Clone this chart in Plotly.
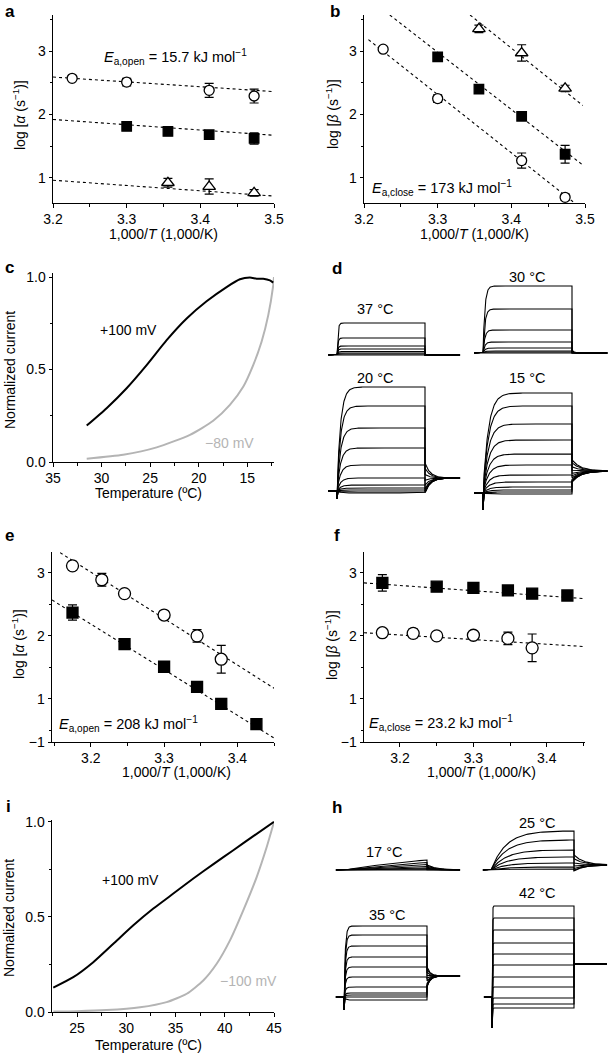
import numpy as np
import plotly.graph_objects as go

W, H = 609, 1054
FONT = "Arial, 'Liberation Sans', Helvetica, sans-serif"
GREY = "#b4b4b4"
TICK_SIZE = 14
TITLE_SIZE = 14

# ---------------- data ----------------
# panel a : log alpha
a_open_x = [3.226, 3.300, 3.412, 3.473]
a_open_y = [2.57, 2.51, 2.38, 2.29]
a_open_err = [0.03, 0.06, 0.11, 0.11]
a_fill_x = [3.300, 3.356, 3.412, 3.473]
a_fill_y = [1.81, 1.73, 1.68, 1.62]
a_fill_err = [0.05, 0.04, 0.05, 0.09]
a_tri_x = [3.356, 3.412, 3.473]
a_tri_y = [0.92, 0.86, 0.76]
a_tri_err = [0.07, 0.12, 0.05]
a_fit_x = [3.2, 3.5]
a_fit_open = [2.59, 2.36]
a_fit_fill = [1.92, 1.67]
a_fit_tri = [0.96, 0.71]

# panel b : log beta
b_open_x = [3.226, 3.300, 3.414, 3.473]
b_open_y = [3.03, 2.25, 1.27, 0.69]
b_open_err = [0.03, 0.06, 0.12, 0.05]
b_fill_x = [3.300, 3.356, 3.414, 3.473]
b_fill_y = [2.91, 2.40, 1.97, 1.37]
b_fill_err = [0.05, 0.07, 0.05, 0.14]
b_tri_x = [3.356, 3.414, 3.473]
b_tri_y = [3.35, 2.97, 2.41]
b_tri_err = [0.06, 0.13, 0.05]
b_fit_open_x, b_fit_open_y = [3.206, 3.486], [3.18, 0.60]
b_fit_fill_x, b_fit_fill_y = [3.235, 3.497], [3.57, 1.20]
b_fit_tri_x, b_fit_tri_y = [3.344, 3.497], [3.57, 2.14]

# panel c : normalized current vs temperature
c_pos_T = [31.53, 29.48, 27.42, 25.36, 23.30, 21.24, 19.19, 17.13, 15.76, 14.73, 14.04,
           13.36, 12.67, 12.33]
c_pos_I = [0.197, 0.291, 0.399, 0.524, 0.659, 0.776, 0.869, 0.946, 0.988, 0.997, 0.991,
           0.991, 0.982, 0.970]
c_neg_T = [31.53, 27.77, 24.33, 20.9, 18.51, 16.79, 15.42, 14.39, 13.53, 12.84, 12.33, 12.25]
c_neg_I = [0.018, 0.039, 0.079, 0.147, 0.223, 0.309, 0.407, 0.524, 0.65, 0.794, 0.955, 1.0]

# panel e : log alpha
e_open_x = [3.175, 3.215, 3.246, 3.300, 3.345, 3.378]
e_open_y = [3.11, 2.89, 2.67, 2.33, 2.00, 1.63]
e_open_err = [0.07, 0.10, 0.05, 0.05, 0.10, 0.22]
e_fill_x = [3.175, 3.246, 3.300, 3.345, 3.378, 3.426]
e_fill_y = [2.37, 1.87, 1.51, 1.19, 0.92, 0.60]
e_fill_err = [0.12, 0, 0, 0, 0, 0]
e_fit_open_x, e_fit_open_y = [3.158, 3.45], [3.32, 1.17]
e_fit_fill_x, e_fit_fill_y = [3.147, 3.45], [2.57, 0.38]

# panel f : log beta
f_fill_x = [3.176, 3.250, 3.300, 3.347, 3.380, 3.428]
f_fill_y = [2.84, 2.78, 2.76, 2.72, 2.67, 2.64]
f_fill_err = [0.13, 0, 0, 0, 0, 0]
f_open_x = [3.176, 3.218, 3.250, 3.300, 3.347, 3.380]
f_open_y = [2.05, 2.04, 2.00, 2.01, 1.96, 1.81]
f_open_err = [0.06, 0.07, 0.05, 0.05, 0.10, 0.22]
f_fit_x = [3.151, 3.452]
f_fit_fill = [2.84, 2.59]
f_fit_open = [2.05, 1.83]

# panel i : normalized current vs temperature
i_pos_T = [22.59, 24.62, 26.65, 28.69, 30.72, 32.75, 34.78, 36.81, 38.85, 40.87, 42.9, 45.0]
i_pos_I = [0.128, 0.183, 0.262, 0.359, 0.456, 0.544, 0.623, 0.702, 0.778, 0.851, 0.925, 1.0]
i_neg_T = [22.6, 25.0, 28.0, 31.4, 34.1, 36.14, 37.82, 39.18, 40.53, 41.88, 43.24, 44.26, 45.0]
i_neg_I = [0.002, 0.004, 0.01, 0.025, 0.052, 0.096, 0.166, 0.254, 0.377, 0.535, 0.71,
           0.868, 1.0]

# current families (end-of-pulse amplitudes, arbitrary units), kinetics
d_labels = ["37 °C", "30 °C", "20 °C", "15 °C"]
d_amps = [
    [3.2, 1.7, 0.9, 0.6, 0.35, 0.2, 0.1, 0.0],
    [6.7, 4.4, 2.3, 1.1, 0.5, 0.2, 0.1, 0.0],
    [10.4, 8.5, 6.3, 4.3, 2.6, 1.3, 0.6, 0.3, 0.1, -0.1, -0.2],
    [10.0, 8.7, 6.9, 5.3, 3.9, 2.8, 1.8, 1.1, 0.6, 0.3, 0.1, -0.1],
]
d_tau_on = [1.0, 2.0, 4.0, 6.0]
d_tail = [0.0, 0.0, 1.3, 2.2]
d_tail_hi = [0.0, 0.3, 2.8, 3.3]
d_tail_lo = [0.0, 0.0, -0.2, 1.1]
d_tau_off = [1.0, 2.0, 6.0, 10.0]
d_spike = [0.0, 0.0, 0.8, 1.7]

h_labels = ["17 °C", "25 °C", "35 °C", "42 °C"]
h_amps = [
    [1.0, 0.75, 0.55, 0.35, 0.2, 0.1, 0.05],
    [3.9, 3.0, 2.0, 1.3, 0.7, 0.3, 0.1],
    [7.1, 6.2, 5.1, 4.0, 3.0, 2.0, 1.0, 0.4, 0.2, 0.0, -0.3],
    [9.1, 7.9, 6.7, 5.4, 4.3, 3.2, 2.0, 1.0, -0.1, -0.7, -1.1],
]
h_tau_on = [150.0, 18.0, 1.5, 0.3]
h_tail = [0.0, 0.5, 2.1, 3.3]
h_tail_hi = [0.5, 1.5, 3.0, 3.3]
h_tail_lo = [0.0, -0.1, 1.0, 3.3]
h_tau_off = [12.0, 12.0, 4.0, 1.0]
h_spike = [0.0, 0.0, 1.3, 3.1]

# ---------------- helpers ----------------
def px(x):
    return x / W

def py(y):
    return 1 - y / H

fig = go.Figure()
layout = {}

def axis_common():
    return dict(showline=True, linecolor="black", linewidth=1, ticks="outside",
                ticklen=3.5, tickwidth=1, tickcolor="black", showgrid=False,
                zeroline=False, automargin=False,
                tickfont=dict(family=FONT, size=TICK_SIZE, color="black"))

def add_axes(n, xl, xr, yt, yb, xrange, yrange, xt, yt_vals, xtext=None, ytext=None,
             xminor=None, yminor=None):
    xa = axis_common()
    xa.update(domain=[px(xl), px(xr)], range=xrange, anchor="y%d" % n,
              tickmode="array", tickvals=xt,
              ticktext=xtext if xtext else [str(v) for v in xt])
    if xminor:
        xa["minor"] = dict(tickvals=xminor, ticks="outside", ticklen=2.5, tickcolor="black")
    ya = axis_common()
    ya.update(domain=[py(yb), py(yt)], range=yrange, anchor="x%d" % n,
              tickmode="array", tickvals=yt_vals,
              ticktext=ytext if ytext else [str(v) for v in yt_vals])
    if yminor:
        ya["minor"] = dict(tickvals=yminor, ticks="outside", ticklen=2.5, tickcolor="black")
    layout["xaxis%d" % n] = xa
    layout["yaxis%d" % n] = ya

def hidden_axes(n, xl, xr, yt, yb, xrange, yrange):
    layout["xaxis%d" % n] = dict(domain=[px(xl), px(xr)], range=xrange, visible=False,
                                 anchor="y%d" % n, fixedrange=True, automargin=False)
    layout["yaxis%d" % n] = dict(domain=[py(yb), py(yt)], range=yrange, visible=False,
                                 anchor="x%d" % n, fixedrange=True, automargin=False)

def dashed(n, x, y):
    fig.add_trace(go.Scatter(x=x, y=y, mode="lines", xaxis="x%d" % n, yaxis="y%d" % n,
                             line=dict(color="black", width=1.1, dash="3px,3px"),
                             showlegend=False, hoverinfo="skip"))

def points(n, x, y, err, symbol, size, fill):
    fig.add_trace(go.Scatter(x=x, y=y, mode="markers", xaxis="x%d" % n, yaxis="y%d" % n,
                             marker=dict(symbol=symbol, size=size, color=fill,
                                         line=dict(color="black", width=1.3)),
                             error_y=dict(type="data", array=err, color="black",
                                          thickness=1.2, width=4.5),
                             showlegend=False))

def curve(n, x, y, color):
    fig.add_trace(go.Scatter(x=x, y=y, mode="lines", xaxis="x%d" % n, yaxis="y%d" % n,
                             line=dict(color=color, width=2, shape="spline", smoothing=0.6),
                             showlegend=False))

def family(n, amps, tau_on, tail, tail_hi, tail_lo, tau_off, spike):
    t_on = np.concatenate([[0.0], np.geomspace(0.02, 100, 180)])
    t_off = 100 + np.concatenate([[0.0], np.geomspace(0.05, 40, 90)])
    amax, amin = max(amps), min(amps)
    xs, ys = [], []
    for A in amps:
        f = 1 - np.exp(-t_on / tau_on)
        f100 = 1 - np.exp(-100 / tau_on)
        i_on = A * f / f100 - spike * np.exp(-t_on / 0.3)
        frac = (A - amin) / (amax - amin) if amax > amin else 0.0
        B = tail_lo + (tail_hi - tail_lo) * frac
        i_off = tail + (B - tail) * np.exp(-(t_off - 100) / tau_off)
        xs += [-10, 0] + list(t_on) + list(t_off) + [None]
        ys += [0, 0] + list(i_on) + list(i_off) + [None]
    fig.add_trace(go.Scatter(x=xs, y=ys, mode="lines", xaxis="x%d" % n, yaxis="y%d" % n,
                             line=dict(color="black", width=1.1), showlegend=False,
                             hoverinfo="skip"))

# ---------------- panel a ----------------
add_axes(1, 53, 274, 15, 203, [3.2, 3.5], [0.6, 3.57], [3.2, 3.3, 3.4, 3.5], [1, 2, 3],
         xminor=[3.25, 3.35, 3.45], yminor=[1.5, 2.5, 3.5])
dashed(1, a_fit_x, a_fit_open)
dashed(1, a_fit_x, a_fit_fill)
dashed(1, a_fit_x, a_fit_tri)
points(1, a_open_x, a_open_y, a_open_err, "circle", 10, "white")
points(1, a_fill_x, a_fill_y, a_fill_err, "square", 9.5, "black")
points(1, a_tri_x, a_tri_y, a_tri_err, "triangle-up", 11, "white")

# ---------------- panel b ----------------
add_axes(2, 364, 585, 15, 203, [3.2, 3.5], [0.6, 3.57], [3.2, 3.3, 3.4, 3.5], [1, 2, 3],
         xminor=[3.25, 3.35, 3.45], yminor=[1.5, 2.5, 3.5])
dashed(2, b_fit_open_x, b_fit_open_y)
dashed(2, b_fit_fill_x, b_fit_fill_y)
dashed(2, b_fit_tri_x, b_fit_tri_y)
points(2, b_open_x, b_open_y, b_open_err, "circle", 10, "white")
points(2, b_fill_x, b_fill_y, b_fill_err, "square", 9.5, "black")
points(2, b_tri_x, b_tri_y, b_tri_err, "triangle-up", 11, "white")

# ---------------- panel c ----------------
add_axes(3, 53, 274, 273, 462, [35, 12.25], [0, 1.022], [35, 30, 25, 20, 15], [0, 0.5, 1.0],
         ytext=["0.0", "0.5", "1.0"], xminor=[32.5, 27.5, 22.5, 17.5, 12.5],
         yminor=[0.25, 0.75])
curve(3, c_neg_T, c_neg_I, GREY)
curve(3, c_pos_T, c_pos_I, "black")

# ---------------- panel e ----------------
add_axes(4, 52, 274, 552, 742, [3.147, 3.45], [0.317, 3.33], [3.2, 3.3, 3.4],
         [0.317, 1, 2, 3], ytext=["\u22121", "1", "2", "3"],
         xminor=[3.15, 3.25, 3.35, 3.45], yminor=[0.5, 1.5, 2.5])
dashed(4, e_fit_open_x, e_fit_open_y)
dashed(4, e_fit_fill_x, e_fit_fill_y)
points(4, e_open_x, e_open_y, e_open_err, "circle", 12, "white")
points(4, e_fill_x, e_fill_y, e_fill_err, "square", 11, "black")

# ---------------- panel f ----------------
add_axes(5, 364, 585, 552, 742, [3.151, 3.452], [0.317, 3.33], [3.2, 3.3, 3.4],
         [0.317, 1, 2, 3], ytext=["\u22121", "1", "2", "3"],
         xminor=[3.15, 3.25, 3.35, 3.45], yminor=[0.5, 1.5, 2.5])
dashed(5, f_fit_x, f_fit_fill)
dashed(5, f_fit_x, f_fit_open)
points(5, f_open_x, f_open_y, f_open_err, "circle", 12, "white")
points(5, f_fill_x, f_fill_y, f_fill_err, "square", 11, "black")

# ---------------- panel i ----------------
add_axes(6, 52, 274, 820, 1012, [22.46, 45], [0, 1.01], [25, 30, 35, 40, 45], [0, 0.5, 1.0],
         ytext=["0.0", "0.5", "1.0"], xminor=[22.5, 27.5, 32.5, 37.5, 42.5],
         yminor=[0.25, 0.75])
curve(6, i_neg_T, i_neg_I, GREY)
curve(6, i_pos_T, i_pos_I, "black")

# ---------------- current families d & h ----------------
SCALE = 10.0  # px per unit

def fam_panel(n, step_s, step_e, zero, top, bottom):
    ppm = (step_e - step_s) / 100.0
    xl = step_s - 10 * ppm
    xr = step_s + 140 * ppm
    hidden_axes(n, xl, min(xr, W), top, bottom, [-10, -10 + (min(xr, W) - xl) / ppm],
                [-(bottom - zero) / SCALE, (zero - top) / SCALE])

d_geom = [(337, 425, 355, 295, 372), (483, 572, 353, 265, 372),
          (337, 425, 491, 370, 520), (483, 572, 493, 370, 520)]
h_geom = [(344, 427, 870, 835, 885), (491, 574, 870, 815, 885),
          (344, 427, 997, 895, 1045), (492, 574, 997, 885, 1045)]

n = 7
for k in range(4):
    fam_panel(n, *d_geom[k])
    family(n, d_amps[k], d_tau_on[k], d_tail[k], d_tail_hi[k], d_tail_lo[k],
           d_tau_off[k], d_spike[k])
    n += 1
for k in range(4):
    fam_panel(n, *h_geom[k])
    family(n, h_amps[k], h_tau_on[k], h_tail[k], h_tail_hi[k], h_tail_lo[k],
           h_tau_off[k], h_spike[k])
    n += 1

# ---------------- annotations ----------------
ann = []

def text(x, y, s, size=TITLE_SIZE, xanchor="center", angle=0, color="black", bold=False):
    if bold:
        s = "<b>%s</b>" % s
    ann.append(dict(x=px(x), y=py(y), xref="paper", yref="paper", text=s, showarrow=False,
                    xanchor=xanchor, yanchor="middle", textangle=angle,
                    font=dict(family=FONT, size=size, color=color)))

# panel letters
for lab, x, y in [("a", 3, 12), ("b", 328, 12), ("c", 3, 267), ("d", 330, 268),
                  ("e", 3, 535), ("f", 332, 535), ("i", 4, 806), ("h", 330, 807)]:
    text(x, y, lab, size=17, xanchor="left", bold=True)

ylab_a = "log [<i>\u03b1</i> (s<sup>\u22121</sup>)]"
ylab_b = "log [<i>\u03b2</i> (s<sup>\u22121</sup>)]"
xlab_T = "1,000/<i>T</i> (1,000/K)"
text(19, 115, ylab_a, angle=-90)
text(332, 114, ylab_b, angle=-90)
text(18, 644, ylab_a, angle=-90)
text(331, 645, ylab_b, angle=-90)
text(10, 370, "Normalized current", angle=-90)
text(9, 918, "Normalized current", angle=-90)
text(163, 234, xlab_T)
text(474, 234, xlab_T)
text(176, 772, xlab_T)
text(481, 772, xlab_T)
text(148, 493, "Temperature (ºC)")
text(148, 1045, "Temperature (ºC)")

text(102, 57, "<i>E</i><sub>a,open</sub> = 15.7 kJ mol<sup>\u22121</sup>", size=14.5,
     xanchor="left")
text(370, 188, "<i>E</i><sub>a,close</sub> = 173 kJ mol<sup>\u22121</sup>", size=14.5,
     xanchor="left")
text(57, 724, "<i>E</i><sub>a,open</sub> = 208 kJ mol<sup>\u22121</sup>", size=14.5,
     xanchor="left")
text(367, 723, "<i>E</i><sub>a,close</sub> = 23.2 kJ mol<sup>\u22121</sup>", size=14.5,
     xanchor="left")

text(98, 330, "+100 mV", size=14, xanchor="left")
text(203, 443, "\u221280 mV", size=14, xanchor="left", color=GREY)
text(100, 880, "+100 mV", size=14, xanchor="left")
text(218, 981, "\u2212100 mV", size=14, xanchor="left", color=GREY)

for lab, (x, y) in zip(d_labels, [(375, 309), (527, 277), (375, 378), (527, 378)]):
    text(x, y, lab, size=14.5)
for lab, (x, y) in zip(h_labels, [(384, 852), (537, 823), (387, 915), (537, 893)]):
    text(x, y, lab, size=14.5)

layout.update(width=W, height=H, margin=dict(l=0, r=0, t=0, b=0), paper_bgcolor="white",
              plot_bgcolor="rgba(0,0,0,0)", showlegend=False, annotations=ann,
              template="none", font=dict(family=FONT, color="black"))
fig.update_layout(**layout)
fig.write_html("out.html", config={"displayModeBar": False},
               post_script="document.body.style.margin='0px';")
